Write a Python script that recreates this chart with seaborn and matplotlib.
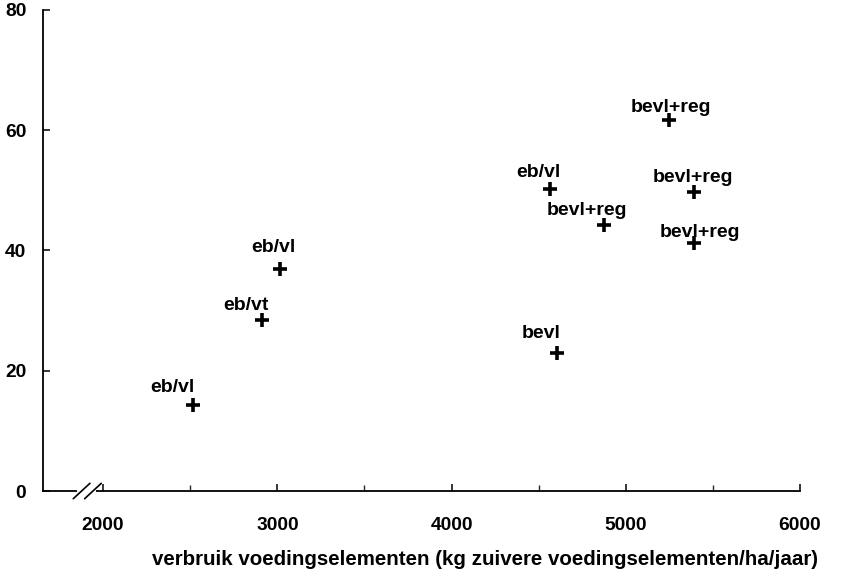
import matplotlib
matplotlib.use("Agg")
import matplotlib.pyplot as plt
from matplotlib.ticker import FixedLocator
import seaborn as sns
import pandas as pd

# Nutrient use vs. result per farm type
verbruik = [2514, 2914, 3017, 4566, 4607, 4873, 5249, 5389, 5389]
waarde = [14.3, 28.5, 37.0, 50.3, 23.0, 44.3, 61.7, 49.8, 41.2]
labels = ["eb/vl", "eb/vt", "eb/vl", "eb/vl", "bevl",
          "bevl+reg", "bevl+reg", "bevl+reg", "bevl+reg"]
# label offsets in pixels (dx, dy) relative to each point
label_dx = [-20, -16, -7, -12, -16, -17, 2, -1, 6]
label_dy = [13, 10, 17, 12, 15, 10, 8, 10, 6]

x_ticks = [2000, 3000, 4000, 5000, 6000]
x_minor = [2500, 3500, 4500, 5500]
y_ticks = [0, 20, 40, 60, 80]
x_title = "verbruik voedingselementen (kg zuivere voedingselementen/ha/jaar)"

df = pd.DataFrame({"verbruik": verbruik, "waarde": waarde, "label": labels})

sns.set_style("ticks")
plt.rcParams["font.family"] = ["Liberation Sans", "DejaVu Sans"]
plt.rcParams["font.weight"] = "bold"

fig = plt.figure(figsize=(8.49, 5.75), dpi=100)
ax = fig.add_axes([43 / 849, 84 / 575, 757 / 849, 481 / 575])

sns.scatterplot(data=df, x="verbruik", y="waarde", marker="+", s=90,
                color="black", linewidth=2.6, ax=ax, zorder=3)

for xv, yv, lab, dx, dy in zip(verbruik, waarde, labels, label_dx, label_dy):
    ax.annotate(lab, (xv, yv), xytext=(dx * 0.72, dy * 0.72),
                textcoords="offset points", ha="center", va="baseline",
                fontsize=14, fontweight="bold", color="black")

ax.set_xlim(1655, 6000)
ax.set_ylim(0, 80)
ax.xaxis.set_major_locator(FixedLocator(x_ticks))
ax.xaxis.set_minor_locator(FixedLocator(x_minor))
ax.yaxis.set_major_locator(FixedLocator(y_ticks))
ax.set_xticklabels([str(t) for t in x_ticks], fontweight="bold")
ax.set_yticklabels([str(t) for t in y_ticks], fontweight="bold")

ax.tick_params(axis="both", which="major", direction="in", length=5,
               width=1.1, labelsize=13.8, colors="black")
ax.tick_params(axis="x", which="major", pad=19)
ax.tick_params(axis="y", which="major", pad=12)
ax.tick_params(axis="x", which="minor", direction="in", length=4, width=1.0)

ax.set_xlabel(x_title, fontsize=14.8, fontweight="bold", labelpad=11,
              color="black", x=0.584)
ax.set_ylabel("")

sns.despine(ax=ax)
for side in ("left", "bottom"):
    ax.spines[side].set_linewidth(1.3)
    ax.spines[side].set_color("black")

# axis break symbol near the origin
ax.plot([0.048, 0.067], [0.0, 0.0], color="white", lw=3,
        transform=ax.transAxes, clip_on=False, zorder=4)
for x0 in (0.040, 0.055):
    ax.plot([x0, x0 + 0.022], [-0.016, 0.016], color="black", lw=1.2,
            transform=ax.transAxes, clip_on=False, zorder=5)

fig.savefig("out.png", dpi=100)
